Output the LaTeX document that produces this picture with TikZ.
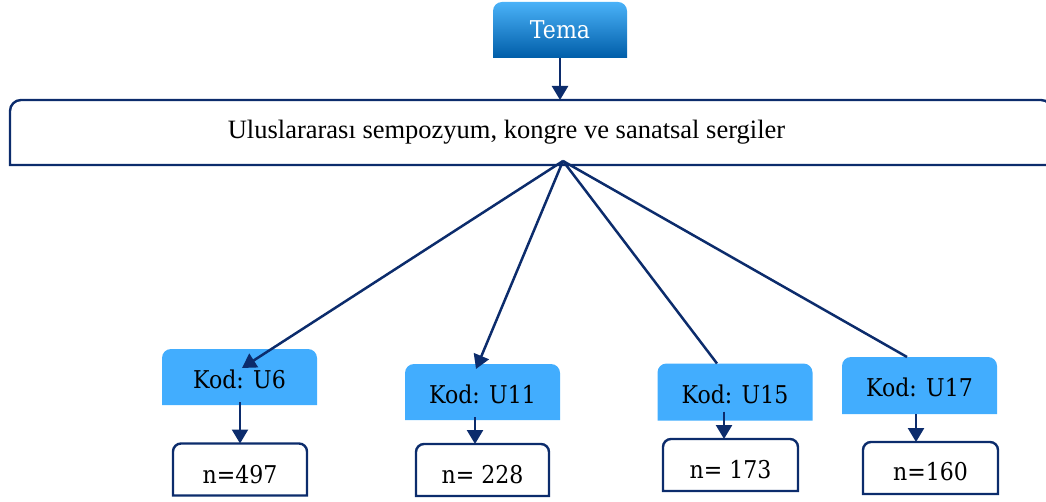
\documentclass[tikz,border=0pt]{standalone}
\usepackage{fontspec}
\setmainfont{Liberation Serif}
\newfontfamily\lblfont{DejaVu Serif}[FakeStretch=0.9]
\usetikzlibrary{arrows.meta,calc,backgrounds}

\definecolor{navy}{HTML}{0C2C6C}
\definecolor{kodblue}{HTML}{42ADFE}
\definecolor{temalight}{HTML}{4AB2F8}
\definecolor{temamid}{HTML}{0A86E2}
\definecolor{temadark}{HTML}{005DA8}

% outline of a box with rounded top corners only
\newcommand\tabpath[2]{(#1.south west) -- ([yshift=-#2]#1.north west)
  arc[start angle=180,end angle=90,radius=#2] -- ([xshift=-#2]#1.north east)
  arc[start angle=90,end angle=0,radius=#2] -- (#1.south east) -- cycle}

\begin{document}
\begin{tikzpicture}[x=1pt,y=1pt,
  every node/.style={inner sep=0pt,outer sep=0pt},
  lbl/.style={font=\lblfont\fontsize{24.5}{24.5}\selectfont},
  temabox/.style={lbl,text=white,text height=18pt,text depth=0pt,
    minimum width=134pt,minimum height=56pt},
  kodbox/.style={lbl,text height=22pt,text depth=0pt,
    minimum width=155pt,minimum height=56pt},
  countbox/.style={lbl,text height=27pt,text depth=0pt,
    minimum width=134pt,minimum height=52pt},
  link/.style={draw=navy,line width=2.5pt},
  arr/.style={link,-{Triangle[width=16pt,length=14pt]}},
  edge/.style={draw=navy,line width=2.4pt,fill=white}]

\useasboundingbox (0,0) rectangle (1046,501);

% boxes and their texts
\node[temabox] (tema) at (560,471) {Tema};
\node[minimum width=1042pt,minimum height=65pt] (bigbox) at (531,368.5) {};
\node[anchor=base,font=\fontsize{26.5}{26.5}\selectfont] (bigtext) at (506.5,362)
  {Uluslararası sempozyum, kongre ve sanatsal sergiler};

\node[kodbox] (u6)  at (239.5,124) {Kod: U6};
\node[kodbox] (u11) at (482.5,109) {Kod: U11};
\node[kodbox,minimum height=57pt] (u15) at (735,109) {Kod: U15};
\node[kodbox,minimum height=57pt] (u17) at (919.5,115.5) {Kod: U17};

\node[countbox] (n6)  at (240,31.5) {n=497};
\node[countbox,minimum width=133pt] (n11) at (482.5,31) {n= 228};
\node[countbox,minimum width=135pt,text height=26pt] (n15) at (730.5,36) {n= 173};
\node[countbox,minimum width=135pt,text height=24pt] (n17) at (930.5,33) {n=160};

% box shapes behind the texts
\begin{pgfonlayer}{background}
  \shade[top color=temalight,middle color=temamid,bottom color=temadark] \tabpath{tema}{9pt};
  \path[edge] \tabpath{bigbox}{11pt};
  \foreach \k in {u6,u11,u15,u17} {\path[fill=kodblue] \tabpath{\k}{9pt};}
  \foreach \k in {n6,n11,n15,n17} {\path[edge] \tabpath{\k}{8pt};}
\end{pgfonlayer}

% connectors
\coordinate (hub) at ($(bigbox.south)+(32,4)$);
\draw[arr] (tema.south) -- (tema.south |- bigbox.north);

\draw[arr] (hub) -- ($(u6.north)+(2.5,-19)$);
\draw[arr] (hub) -- ($(u11.north)+(-6.5,-5)$);
\draw[link] (hub) -- ($(u15.north)+(-18,0)$);
\draw[link] (hub) -- ($(u17.north)+(-12.5,0)$);

\coordinate (d6) at ($(u6.south)+(0.5,3)$);
\coordinate (d11) at ($(u11.south)+(-7.5,3)$);
\coordinate (d15) at ($(u15.south)+(-11,9)$);
\coordinate (d17) at ($(u17.south)+(-3.5,0)$);
\draw[arr] (d6) -- (d6 |- n6.north);
\draw[arr] (d11) -- (d11 |- n11.north);
\draw[arr] (d15) -- (d15 |- n15.north);
\draw[arr] (d17) -- (d17 |- n17.north);
\end{tikzpicture}
\end{document}
